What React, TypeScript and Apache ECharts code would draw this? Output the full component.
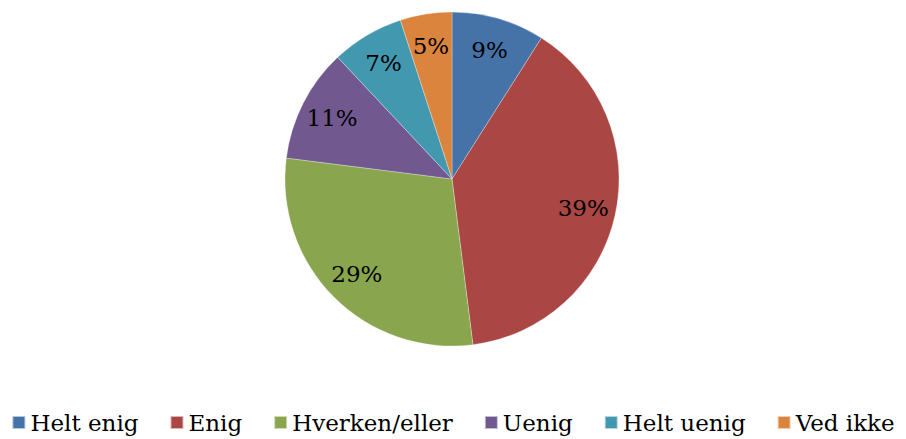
import React, { useEffect, useRef } from "react";
import * as echarts from "echarts";

const categories = ["Helt enig", "Enig", "Hverken/eller", "Uenig", "Helt uenig", "Ved ikke"];
const values = [9, 39, 29, 11, 7, 5];
const colors = ["#4572A7", "#AA4643", "#89A54E", "#71588F", "#4198AF", "#DB843D"];

const FONT = "DejaVu Serif";

export default function App() {
  const ref = useRef<HTMLDivElement>(null);
  useEffect(() => {
    const chart = echarts.init(ref.current!, null, { renderer: "svg" });
    const data = categories.map((name, i) => ({ name, value: values[i] }));
    chart.setOption({
      animation: false,
      color: colors,
      legend: {
        bottom: 0,
        left: "center",
        itemWidth: 13,
        itemHeight: 13,
        itemGap: 31,
        icon: "rect",
        textStyle: { fontFamily: FONT, fontSize: 23, color: "#000" },
        data: categories,
      },
      series: [
        {
          type: "pie",
          center: [452, 179],
          radius: [0, 167],
          startAngle: 90,
          clockwise: true,
          label: { show: false },
          labelLine: { show: false },
          itemStyle: { borderColor: "rgba(255,255,255,0.6)", borderWidth: 0.5 },
          data,
        },
        {
          type: "pie",
          center: [452, 179],
          radius: [96, 167],
          startAngle: 90,
          clockwise: true,
          silent: true,
          itemStyle: { color: "transparent" },
          label: {
            show: true,
            position: "inside",
            formatter: "{c}%",
            fontFamily: FONT,
            fontSize: 23,
            color: "#000",
          },
          labelLine: { show: false },
          data,
        },
      ],
    });
    return () => chart.dispose();
  }, []);
  return (
    <div
      ref={ref}
      style={{ position: "fixed", left: 0, top: 0, width: 906, height: 439, background: "#fff" }}
    />
  );
}
